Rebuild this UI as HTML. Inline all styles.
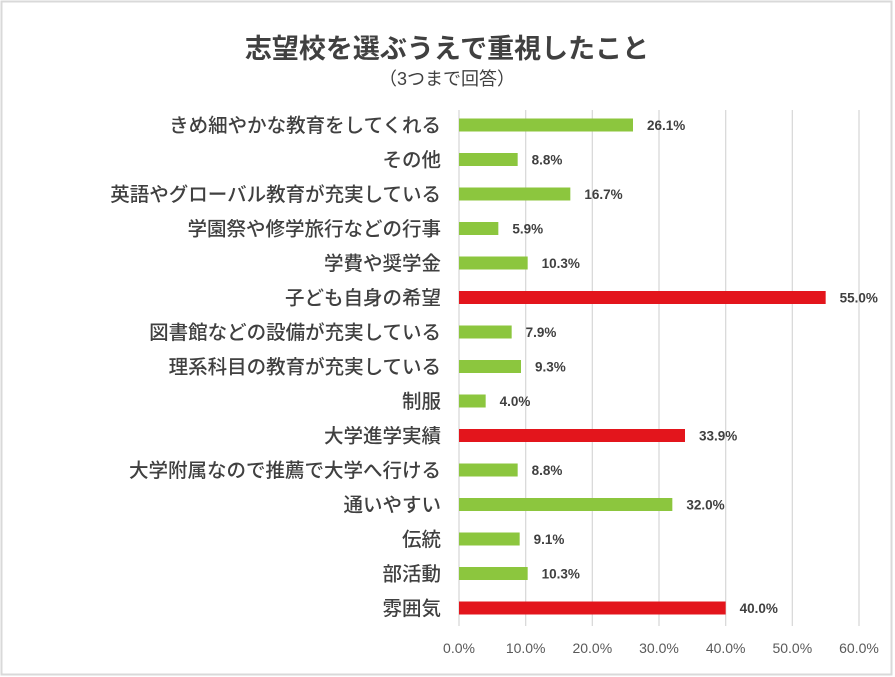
<!DOCTYPE html>
<html><head><meta charset="utf-8">
<style>
body{margin:0;background:#fff;width:895px;height:677px;overflow:hidden;font-family:"Liberation Sans","Noto Sans CJK JP",sans-serif;}
svg{display:block}
</style></head><body>
<svg id="chart" width="895" height="677">
<rect x="1.5" y="1.5" width="890" height="673" fill="#fff" stroke="#d9d9d9" stroke-width="2"/>
<text x="447" y="58" text-anchor="middle" font-size="27" font-weight="bold" fill="#404040" font-family="Liberation Sans, Noto Sans CJK JP, sans-serif">志望校を選ぶうえで重視したこと</text>
<text x="447" y="85" text-anchor="middle" font-size="18" fill="#404040" font-family="Liberation Sans, Noto Sans CJK JP, sans-serif">（3つまで回答）</text>
<g id="grid"></g><g id="bars"></g><g id="labels"></g><g id="ticks"></g>
</svg>
<script>
const categories=["きめ細やかな教育をしてくれる","その他","英語やグローバル教育が充実している","学園祭や修学旅行などの行事","学費や奨学金","子ども自身の希望","図書館などの設備が充実している","理系科目の教育が充実している","制服","大学進学実績","大学附属なので推薦で大学へ行ける","通いやすい","伝統","部活動","雰囲気"];
const values=[26.1,8.8,16.7,5.9,10.3,55.0,7.9,9.3,4.0,33.9,8.8,32.0,9.1,10.3,40.0];
const highlighted=[false,false,false,false,false,true,false,false,false,true,false,false,false,false,true];
const tickValues=[0,10,20,30,40,50,60];
const NS="http://www.w3.org/2000/svg";
const x=v=>459+v*(400/60);
const y=i=>125+i*34.5;
function mk(tag,attrs,parent,txt){const e=document.createElementNS(NS,tag);for(const k in attrs)e.setAttribute(k,attrs[k]);if(txt!==undefined)e.textContent=txt;document.getElementById(parent).appendChild(e);return e;}
tickValues.forEach(t=>{
 const g=mk('line',{x1:x(t),x2:x(t),y1:110,y2:626,stroke:'#d9d9d9','stroke-width':1.3},'grid');
 
 
 const l=mk('text',{x:x(t),y:653,'text-anchor':'middle','font-size':14,fill:'#595959','font-family':'Liberation Sans Narrow, Liberation Sans, sans-serif'},'ticks',t.toFixed(1)+'%');
 
 
});
categories.forEach((c,i)=>{
 const b=mk('rect',{x:x(0),y:y(i)-6.5,width:x(values[i])-x(0),height:13,fill:highlighted[i]?'#e3151c':'#8cc63e'},'bars');
 
 
 const v=mk('text',{x:x(values[i])+14,y:y(i)+5,'font-size':13.5,'font-weight':'bold',fill:'#404040','font-family':'Liberation Sans Narrow, Liberation Sans, sans-serif'},'labels',values[i].toFixed(1)+'%');
 
 
 const t=mk('text',{x:441,y:y(i)+7,'text-anchor':'end','font-size':19.5,'font-weight':500,fill:'#404040','font-family':'Liberation Sans, Noto Sans CJK JP, sans-serif'},'labels',c);
 
 
});
</script>
</body></html>
